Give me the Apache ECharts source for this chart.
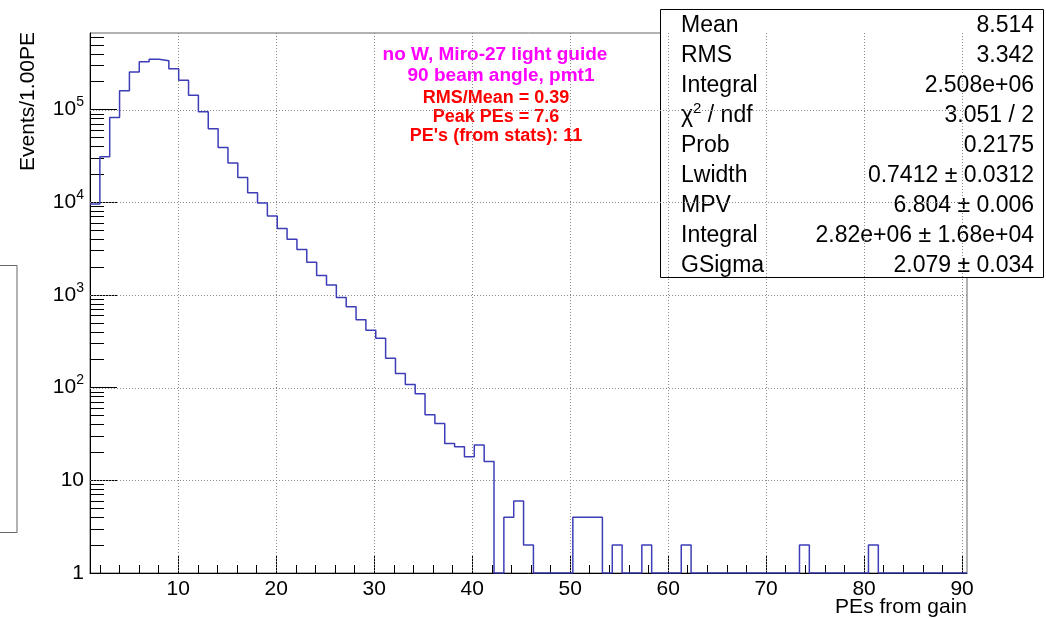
<!DOCTYPE html>
<html>
<head>
<meta charset="utf-8">
<script src="https://cdn.jsdelivr.net/npm/echarts@6/dist/echarts.min.js"></script>
<style>
  html, body { margin: 0; padding: 0; background: #fff; }
  #chart { width: 1046px; height: 618px; }
</style>
</head>
<body>
<div id="chart"></div>
<script>
// histogram: 89 bins between binLow and binHigh
const binLow = 1
const binHigh = 90.5
const counts = [
  9600, 31000, 82000, 160000, 255000, 328000, 350000, 336000, 276000, 207000,
  143000, 95000, 62000, 39000, 26500, 18500, 12700, 9800, 7100, 5200,
  4000, 3100, 2250, 1620, 1280, 940, 745, 540, 415, 340,
  207, 142, 108, 86, 51, 41, 25, 23, 18, 24,
  16, 0, 4, 6, 2, 0, 0, 0, 0, 4,
  4, 4, 0, 2, 0, 0, 2, 0, 0, 0,
  2, 0, 0, 0, 0, 0, 0, 0, 0, 0,
  0, 0, 2, 0, 0, 0, 0, 0, 0, 2,
  0, 0, 0, 0, 0, 0, 0, 0, 0
]

// axis ticks
const xMajorTicks = [10, 20, 30, 40, 50, 60, 70, 80, 90]
const xMinorTicks = [2, 4, 6, 8, 12, 14, 16, 18, 22, 24, 26, 28, 32, 34, 36, 38, 42, 44, 46, 48,
  52, 54, 56, 58, 62, 64, 66, 68, 72, 74, 76, 78, 82, 84, 86, 88]
const yDecades = [0, 1, 2, 3, 4, 5]   // exponents of 10
const yMax = 670000

// text boxes
const noteLines = ['no W, Miro-27 light guide', '90 beam angle, pmt1']
const resultLines = ['RMS/Mean = 0.39', 'Peak PEs = 7.6', "PE's (from stats): 11"]
const statNames = ['Mean', 'RMS', 'Integral', '{t|χ}{u|2}{t| / ndf}', 'Prob', 'Lwidth', 'MPV', 'Integral', 'GSigma']
const statValues = ['8.514', '3.342', '2.508e+06', '3.051 / 2', '0.2175', '0.7412 ± 0.0312',
  '6.804 ± 0.006', '2.82e+06 ± 1.68e+04', '2.079 ± 0.034']

const font = 'Liberation Sans, Arial, Helvetica, sans-serif'
const binWidth = (binHigh - binLow) / counts.length

// step line through bin left edges, empty bins sit on the axis floor
const histData = counts.map((c, i) => [binLow + i * binWidth, Math.max(c, 1)])
histData.push([binHigh, Math.max(counts[counts.length - 1], 1)])

const yMinor = []
yDecades.forEach(d => {
  for (let k = 2; k <= 9; k++) {
    const v = Math.log10(k) + d
    if (v < Math.log10(yMax)) yMinor.push(v)
  }
})

// dotted grid, placed through the axis scales
const gridStyle = { stroke: '#8a8a8a', lineWidth: 1, lineDash: [1, 2] }
function vGrid(params, api) {
  const cs = params.coordSys
  const x = Math.round(api.coord([api.value(0), 1])[0]) + 0.5
  return { type: 'line', shape: { x1: x, y1: cs.y, x2: x, y2: cs.y + cs.height }, style: gridStyle, silent: true }
}
function hGrid(params, api) {
  const cs = params.coordSys
  const y = Math.round(api.coord([binLow, api.value(1)])[1]) + 0.5
  return { type: 'line', shape: { x1: cs.x, y1: y, x2: cs.x + cs.width, y2: y }, style: gridStyle, silent: true }
}

const graphics = []
// partly hidden box on the left edge
graphics.push({
  type: 'rect', shape: { x: -10, y: 265.5, width: 27, height: 267 },
  style: { fill: '#fff', stroke: '#666', lineWidth: 1 }
})
// y axis title
graphics.push({
  type: 'text', x: 28, y: 32, rotation: Math.PI / 2,
  style: { text: 'Events/1.00PE', font: '21px ' + font, fill: '#000', align: 'right', verticalAlign: 'middle' }
})
// x axis title
graphics.push({
  type: 'text', x: 967, y: 607,
  style: { text: 'PEs from gain', font: '21px ' + font, fill: '#000', align: 'right', verticalAlign: 'middle' }
})
noteLines.forEach((t, i) => {
  graphics.push({
    type: 'text', x: [495, 501][i], y: 55 + i * 21,
    style: { text: t, font: 'bold 19px ' + font, fill: '#ff00ff', align: 'center', verticalAlign: 'middle' }
  })
})
resultLines.forEach((t, i) => {
  graphics.push({
    type: 'text', x: 496, y: 98 + i * 19,
    style: { text: t, font: 'bold 18px ' + font, fill: '#ff0000', align: 'center', verticalAlign: 'middle' }
  })
})
// stats box
graphics.push({
  type: 'rect', shape: { x: 660.5, y: 9.5, width: 383, height: 268 },
  style: { fill: '#fff', stroke: '#000', lineWidth: 1 }
})
statNames.forEach((name, i) => {
  const y = 25.5 + i * 30
  graphics.push({
    type: 'text', x: 681, y: y,
    style: {
      text: name, font: '23px ' + font, fill: '#000', align: 'left', verticalAlign: 'middle',
      rich: {
        t: { fontSize: 23, fontFamily: font, fill: '#000' },
        u: { fontSize: 15, fontFamily: font, fill: '#000', padding: [0, 0, 14, 0] }
      }
    }
  })
  graphics.push({
    type: 'text', x: 1034, y: y,
    style: { text: statValues[i], font: '23px ' + font, fill: '#000', align: 'right', verticalAlign: 'middle' }
  })
})

const chart = echarts.init(document.getElementById('chart'))
chart.setOption({
  animation: false,
  backgroundColor: '#fff',
  grid: {
    left: 90, top: 33, width: 877, height: 540,
    show: true, borderColor: '#666', borderWidth: 1, backgroundColor: 'transparent'
  },
  xAxis: [
    {
      type: 'value', min: binLow, max: binHigh, position: 'bottom',
      axisLine: { show: true, lineStyle: { color: '#000', width: 1 } },
      axisTick: { show: true, inside: true, length: 17, customValues: xMajorTicks, lineStyle: { color: '#000' } },
      axisLabel: { customValues: xMajorTicks, fontSize: 21, fontFamily: font, color: '#000', margin: 6 },
      splitLine: { show: false }
    },
    {
      type: 'value', min: binLow, max: binHigh, position: 'bottom',
      axisLine: { show: false },
      axisTick: { show: true, inside: true, length: 8, customValues: xMinorTicks, lineStyle: { color: '#000' } },
      axisLabel: { show: false },
      splitLine: { show: false }
    }
  ],
  yAxis: [
    {
      type: 'log', min: 1, max: yMax, logBase: 10, position: 'left',
      axisLine: { show: false }, axisTick: { show: false }, axisLabel: { show: false }, splitLine: { show: false }
    },
    {
      type: 'value', min: 0, max: Math.log10(yMax), position: 'left',
      axisLine: { show: true, lineStyle: { color: '#000', width: 1 } },
      axisTick: { show: true, inside: true, length: 27, customValues: yDecades, lineStyle: { color: '#000' } },
      axisLabel: {
        customValues: yDecades, margin: 6, color: '#000',
        formatter: v => {
          if (v === 0) return '{b|1}'
          if (v === 1) return '{b|10}'
          return '{b|10}{s|' + v + '}'
        },
        rich: {
          b: { fontSize: 21, fontFamily: font, color: '#000' },
          s: { fontSize: 14, fontFamily: font, color: '#000', padding: [0, 0, 14, 0] }
        }
      },
      splitLine: { show: false }
    },
    {
      type: 'value', min: 0, max: Math.log10(yMax), position: 'left',
      axisLine: { show: false },
      axisTick: { show: true, inside: true, length: 14, customValues: yMinor, lineStyle: { color: '#000' } },
      axisLabel: { show: false },
      splitLine: { show: false }
    }
  ],
  series: [
    {
      type: 'custom',
      xAxisIndex: 0,
      yAxisIndex: 0,
      renderItem: vGrid,
      data: xMajorTicks.map(v => [v, 1]),
      silent: true,
      z: 1
    },
    {
      type: 'custom',
      xAxisIndex: 0,
      yAxisIndex: 0,
      renderItem: hGrid,
      data: yDecades.slice(1).map(d => [binLow, Math.pow(10, d)]),
      silent: true,
      z: 1
    },
    {
      type: 'line',
      xAxisIndex: 0,
      yAxisIndex: 0,
      step: 'end',
      data: histData,
      showSymbol: false,
      lineStyle: { color: '#3d3db8', width: 1.5 },
      clip: true,
      z: 3
    }
  ],
  graphic: graphics
})
</script>
</body>
</html>
